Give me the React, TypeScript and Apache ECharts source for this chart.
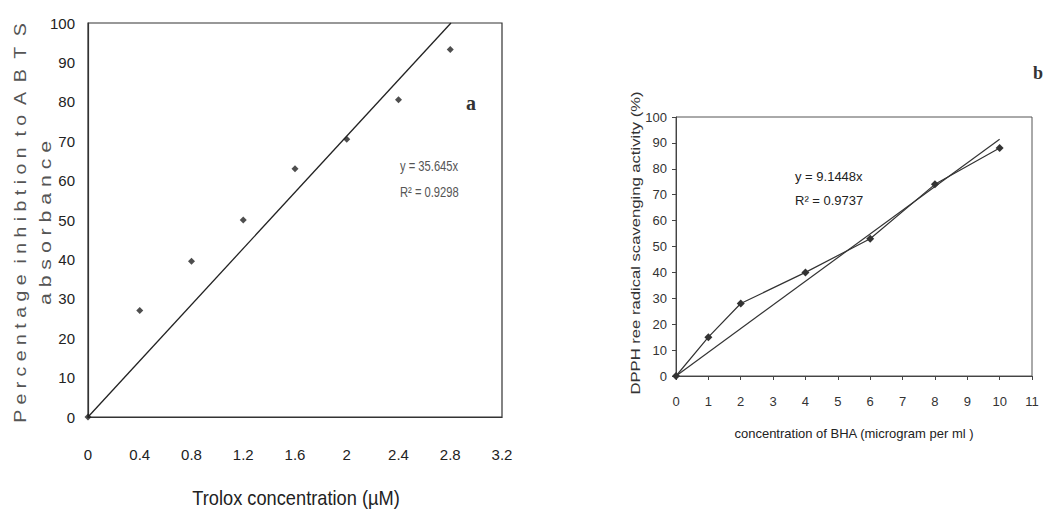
import React, { useEffect, useRef } from "react";
import * as echarts from "echarts";

// Panel a: Trolox / ABTS
const troloxConc = [0, 0.4, 0.8, 1.2, 1.6, 2.0, 2.4, 2.8];
const abtsInhibition = [0, 27, 39.5, 50, 63, 70.5, 80.5, 93.3];
const abtsSlope = 35.645;
const abtsR2 = "0.9298";

// Panel b: BHA / DPPH
const bhaConc = [0, 1, 2, 4, 6, 8, 10];
const dpphActivity = [0, 15, 28, 40, 53, 74, 88];
const dpphSlope = 9.1448;
const dpphR2 = "0.9737";
const dpphTrendEnd = 10;

const SANS = "'Liberation Sans', Arial, sans-serif";
const SERIF = "'Liberation Serif', 'DejaVu Serif', serif";

export default function App() {
  const ref = useRef<HTMLDivElement>(null);
  useEffect(() => {
    document.body.style.margin = "0";
    if (!ref.current) return;
    const chart = echarts.init(ref.current, undefined, { renderer: "svg" });
    const leftPts = troloxConc.map((x, i) => [x, abtsInhibition[i]]);
    const rightPts = bhaConc.map((x, i) => [x, dpphActivity[i]]);
    const leftTrend = [[0, 0], [100 / abtsSlope, 100]];
    const rightTrend = [[0, 0], [dpphTrendEnd, dpphTrendEnd * dpphSlope]];
    chart.setOption({
      animation: false,
      backgroundColor: "#ffffff",
      grid: [
        { left: 88, top: 23, width: 414, height: 394, show: true, borderColor: "#333", borderWidth: 1.2, backgroundColor: "transparent" },
        { left: 676, top: 117, width: 356, height: 259, show: true, borderColor: "#555", borderWidth: 1, backgroundColor: "transparent" },
      ],
      xAxis: [
        {
          gridIndex: 0, type: "value", min: 0, max: 3.2, interval: 0.4,
          axisLine: { show: true, lineStyle: { color: "#333", width: 1.2 } },
          axisTick: { show: false }, splitLine: { show: false },
          axisLabel: { fontFamily: SANS, fontSize: 15, color: "#222", margin: 30 },
        },
        {
          gridIndex: 1, type: "value", min: 0, max: 11, interval: 1,
          axisLine: { show: true, lineStyle: { color: "#444", width: 1 } },
          axisTick: { show: true, length: 4, lineStyle: { color: "#444" } }, splitLine: { show: false },
          axisLabel: { fontFamily: SANS, fontSize: 13, color: "#333", margin: 19 },
        },
      ],
      yAxis: [
        {
          gridIndex: 0, type: "value", min: 0, max: 100, interval: 10,
          axisLine: { show: true, lineStyle: { color: "#333", width: 1.2 } },
          axisTick: { show: false }, splitLine: { show: false },
          axisLabel: { fontFamily: SANS, fontSize: 15, color: "#222", margin: 13 },
        },
        {
          gridIndex: 1, type: "value", min: 0, max: 100, interval: 10,
          axisLine: { show: true, lineStyle: { color: "#444", width: 1 } },
          axisTick: { show: true, length: 4, lineStyle: { color: "#444" } }, splitLine: { show: false },
          axisLabel: { fontFamily: SANS, fontSize: 13, color: "#333", margin: 9 },
        },
      ],
      series: [
        {
          type: "line", xAxisIndex: 0, yAxisIndex: 0, data: leftTrend, showSymbol: false,
          lineStyle: { color: "#222", width: 1.3 }, silent: true,
        },
        {
          type: "scatter", xAxisIndex: 0, yAxisIndex: 0, data: leftPts, symbol: "diamond", symbolSize: 7,
          itemStyle: { color: "#222" },
        },
        {
          type: "line", xAxisIndex: 1, yAxisIndex: 1, data: rightTrend, showSymbol: false,
          lineStyle: { color: "#333", width: 1.2 }, silent: true,
        },
        {
          type: "line", xAxisIndex: 1, yAxisIndex: 1, data: rightPts, symbol: "diamond", symbolSize: 8,
          lineStyle: { color: "#333", width: 1.2 }, itemStyle: { color: "#333" },
        },
      ],
      graphic: [
        {
          type: "text", x: 296, y: 498, scaleX: 0.96, scaleY: 1.1,
          style: { text: "Trolox concentration (µM)", fontFamily: SANS, fontSize: 19, fill: "#222", align: "center", verticalAlign: "middle" },
        },
        {
          type: "text", x: 20, y: 223, rotation: Math.PI / 2, scaleX: 1.15,
          style: { text: "P e r c e n t a g e  i n h i b t i o n  t o  A  B  T  S", fontFamily: SANS, fontSize: 17, fill: "#555", align: "center", verticalAlign: "middle" },
        },
        {
          type: "text", x: 45, y: 223, rotation: Math.PI / 2, scaleX: 1.25,
          style: { text: "a b s o r b a n c e", fontFamily: SANS, fontSize: 17, fill: "#555", align: "center", verticalAlign: "middle" },
        },
        {
          type: "text", x: 471, y: 103,
          style: { text: "a", fontFamily: SERIF, fontWeight: "bold", fontSize: 20, fill: "#333", align: "center", verticalAlign: "middle" },
        },
        {
          type: "text", x: 400, y: 167, scaleX: 0.8,
          style: { text: "y = " + abtsSlope + "x", fontFamily: SANS, fontSize: 14, fill: "#555", align: "left", verticalAlign: "middle" },
        },
        {
          type: "text", x: 400, y: 193, scaleX: 0.8,
          style: { text: "R² = " + abtsR2, fontFamily: SANS, fontSize: 14, fill: "#555", align: "left", verticalAlign: "middle" },
        },
        {
          type: "text", x: 795, y: 176,
          style: { text: "y = " + dpphSlope + "x", fontFamily: SANS, fontSize: 13, fill: "#222", align: "left", verticalAlign: "middle" },
        },
        {
          type: "text", x: 795, y: 200,
          style: { text: "R² = " + dpphR2, fontFamily: SANS, fontSize: 13, fill: "#222", align: "left", verticalAlign: "middle" },
        },
        {
          type: "text", x: 854, y: 433,
          style: { text: "concentration of BHA (microgram per ml )", fontFamily: SANS, fontSize: 13, fill: "#222", align: "center", verticalAlign: "middle" },
        },
        {
          type: "text", x: 635, y: 243, rotation: Math.PI / 2, scaleX: 1.28,
          style: { text: "DPPH ree radical scavenging activity (%)", fontFamily: SANS, fontSize: 13, fill: "#333", align: "center", verticalAlign: "middle" },
        },
        {
          type: "text", x: 1033, y: 73,
          style: { text: "b", fontFamily: SERIF, fontWeight: "bold", fontSize: 18, fill: "#333", align: "left", verticalAlign: "middle" },
        },
      ],
    });
    return () => chart.dispose();
  }, []);
  return <div ref={ref} style={{ width: 1046, height: 514 }} />;
}
